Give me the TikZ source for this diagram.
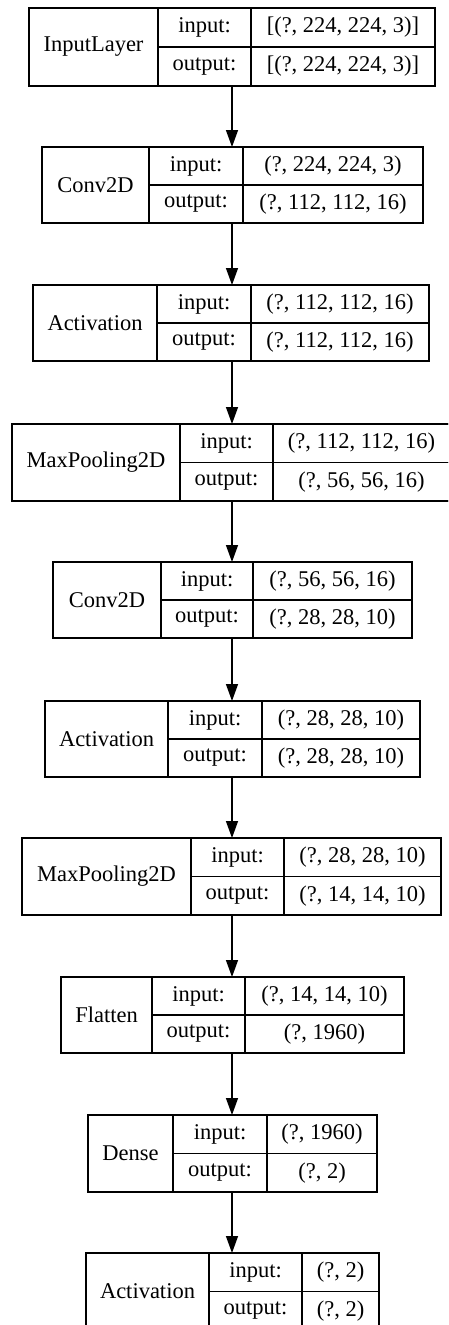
\documentclass[tikz,border=0pt]{standalone}
\usepackage{fontspec}
\setmainfont{Liberation Serif}
\usetikzlibrary{arrows.meta}
\tikzset{
  cell/.style={draw, line width=1.4pt, inner sep=0pt, outer sep=0pt, rectangle, font=\fontsize{22.5}{27}\selectfont},
  arr/.style={line width=1.4pt, -{Triangle[length=17pt,width=12pt]}}
}
\def\parsegeom#1/#2/#3/#4/#5/#6\relax{\def\gT{#1}\def\gB{#2}\def\gL{#3}\def\gA{#4}\def\gD{#5}\def\gR{#6}}
\newcommand\layer[5]{%
  \parsegeom#2\relax
  \pgfmathsetmacro\gM{(\gT+\gB)/2}%
  \node[cell, anchor=north west, minimum width={(\gR-\gL)*1pt}, minimum height={(\gB-\gT)*1pt}] (#1) at (\gL,\gT) {};
  \node[cell, anchor=north west, minimum width={(\gA-\gL)*1pt}, minimum height={(\gB-\gT)*1pt}] (#1n) at (\gL,\gT) {#3};
  \node[cell, anchor=north west, minimum width={(\gD-\gA)*1pt}, minimum height={(\gM-\gT)*1pt}] (#1il) at (\gA,\gT) {input:};
  \node[cell, anchor=north west, minimum width={(\gD-\gA)*1pt}, minimum height={(\gB-\gM)*1pt}] (#1ol) at (\gA,\gM) {output:};
  \node[cell, anchor=north west, minimum width={(\gR-\gD)*1pt}, minimum height={(\gM-\gT)*1pt}] (#1iv) at (\gD,\gT) {#4};
  \node[cell, anchor=north west, minimum width={(\gR-\gD)*1pt}, minimum height={(\gB-\gM)*1pt}] (#1ov) at (\gD,\gM) {#5};
}
\begin{document}
\begin{tikzpicture}[x=1pt,y=-1pt]
\clip (0,0) rectangle (448,1325);
\fill[white] (0,0) rectangle (448,1325);
\layer{L1}{8/86/29/158/251/435}{InputLayer}{[(?, 224, 224, 3)]}{[(?, 224, 224, 3)]}
\layer{L2}{147/223/42/149/243/423}{Conv2D}{(?, 224, 224, 3)}{(?, 112, 112, 16)}
\layer{L3}{285/361/33/157/251/429}{Activation}{(?, 112, 112, 16)}{(?, 112, 112, 16)}
\layer{L4}{424/501/12/180/273/450}{MaxPooling2D}{(?, 112, 112, 16)}{(?, 56, 56, 16)}
\layer{L5}{562/638/53/161/253/412}{Conv2D}{(?, 56, 56, 16)}{(?, 28, 28, 10)}
\layer{L6}{701/777/45/168/262/420}{Activation}{(?, 28, 28, 10)}{(?, 28, 28, 10)}
\layer{L7}{838/915/22/191/284/441}{MaxPooling2D}{(?, 28, 28, 10)}{(?, 14, 14, 10)}
\layer{L8}{977/1053/61/152/245/404}{Flatten}{(?, 14, 14, 10)}{(?, 1960)}
\layer{L9}{1115/1192/88/173/267/377}{Dense}{(?, 1960)}{(?, 2)}
\layer{L10}{1253/1330/86/209/302/379}{Activation}{(?, 2)}{(?, 2)}
\coordinate (ax) at (232,0);
\foreach \a/\b in {L1/L2,L2/L3,L3/L4,L4/L5,L5/L6,L6/L7,L7/L8,L8/L9,L9/L10}
  \draw[arr] (ax |- \a.south) -- (ax |- \b.north);
\end{tikzpicture}
\end{document}
